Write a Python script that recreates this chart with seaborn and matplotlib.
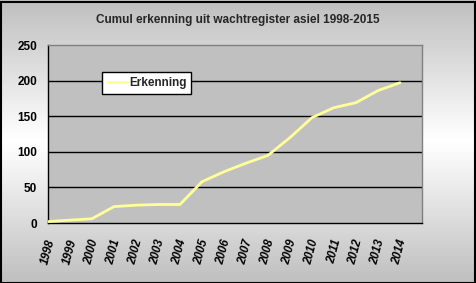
import numpy as np
import pandas as pd
import matplotlib
matplotlib.use("Agg")
import matplotlib.pyplot as plt
import seaborn as sns

years = ["1998", "1999", "2000", "2001", "2002", "2003", "2004", "2005", "2006",
         "2007", "2008", "2009", "2010", "2011", "2012", "2013", "2014"]
erkenning = [2, 4, 6, 23, 25, 26, 26, 58, 72, 84, 95, 120, 148, 162, 169, 186, 197]
yticks = [0, 50, 100, 150, 200, 250]
title = "Cumul erkenning uit wachtregister asiel 1998-2015"
series_name = "Erkenning"

sns.set_theme(style="white")
plt.rcParams['font.family'] = ['Liberation Sans', 'DejaVu Sans']

W, H = 476, 283
fig = plt.figure(figsize=(W / 100, H / 100), dpi=100)

# gradient background
bg = fig.add_axes([0, 0, 1, 1], zorder=-5)
grad = np.concatenate([np.linspace(0.75, 1.0, 50), np.linspace(1.0, 0.75, 50)])
bg.imshow(np.tile(grad[:, None], (1, 10)), cmap="gray", vmin=0, vmax=1,
          aspect="auto", extent=[0, 1, 0, 1])
bg.set_xlim(0, 1); bg.set_ylim(0, 1)
bg.axis("off")
fig.patches.append(plt.Rectangle((0.5 / W, 0.5 / H), 1 - 2 / W, 1 - 2 / H,
                                 transform=fig.transFigure, fill=False,
                                 edgecolor="black", linewidth=1.5, zorder=10))

left, right, top, bottom = 48, 422, 45, 223
ax = fig.add_axes([left / W, 1 - bottom / H, (right - left) / W, (bottom - top) / H])
ax.set_facecolor("#c0c0c0")

df = pd.DataFrame({"pos": np.arange(len(years)), "val": erkenning})
sns.lineplot(data=df, x="pos", y="val", ax=ax, color="#ffff99", linewidth=2,
             label=series_name, zorder=3)

ax.set_xlim(0, len(years))
ax.set_ylim(0, 250)
ax.set_yticks(yticks)
ax.set_yticklabels([str(v) for v in yticks], fontsize=8.5, fontweight="bold")
ax.set_xticks(np.arange(len(years) + 1))
ax.set_xticklabels(years + [""], rotation=75, fontsize=8.3, fontweight="bold",
                   fontstyle="italic", ha="center", va="top")
ax.set_xlabel("")
ax.set_ylabel("")
for y in yticks[1:-1]:
    ax.axhline(y, color="black", linewidth=1, zorder=1)

for s in ["left", "bottom"]:
    ax.spines[s].set_color("black")
    ax.spines[s].set_linewidth(1)
for s in ["top", "right"]:
    ax.spines[s].set_color("#808080")
    ax.spines[s].set_linewidth(1)

ax.tick_params(axis="both", which="both", direction="out", length=5, width=1,
               color="black", labelcolor="black", pad=3)
ax.tick_params(axis="x", pad=6)

leg = ax.legend(loc="center left", bbox_to_anchor=(0.145, 0.787), frameon=True,
                fancybox=False, framealpha=1, edgecolor="black", fontsize=8.5,
                handlelength=1.8, handletextpad=0.05, borderpad=0.4,
                borderaxespad=0)
leg.get_frame().set_linewidth(1)
for t in leg.get_texts():
    t.set_fontweight("bold")

fig.text(0.5, 1 - 20 / H, title, ha="center", va="center", fontsize=8.5,
         fontweight="bold")

fig.savefig("out.png", dpi=100)
